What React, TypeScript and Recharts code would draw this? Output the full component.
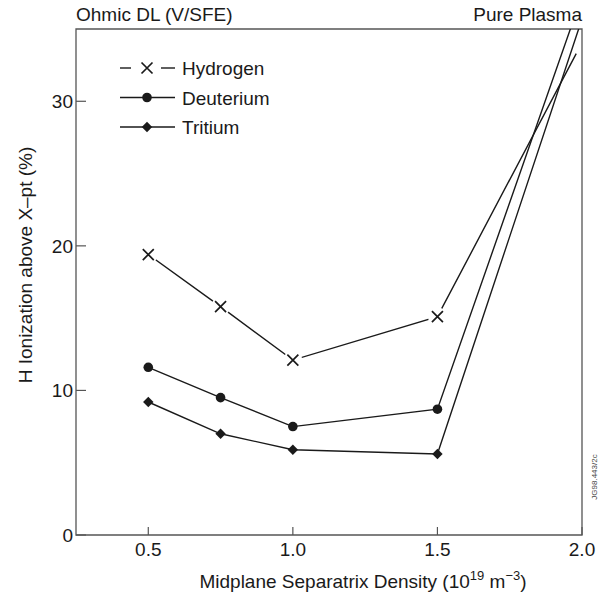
import { LineChart, Line, XAxis, YAxis, ReferenceArea } from "recharts"

const densities = [0.5, 0.75, 1.0, 1.5]
const hydrogen = [19.4, 15.8, 12.1, 15.1]
const deuterium = [11.6, 9.5, 7.5, 8.7]
const tritium = [9.2, 7.0, 5.9, 5.6]
// last point of each line (pure plasma), the two steep ones leave the frame
const endDensity = [1.98, 2.0, 2.0]
const endValue = [33.3, 37.3, 35.7]
const seriesNames = ["Hydrogen", "Deuterium", "Tritium"]
const xTicks = [0.5, 1.0, 1.5, 2.0]
const yTicks = [0, 10, 20, 30]

const FONT = "'Liberation Sans', Arial, Helvetica, sans-serif"
const INK = "#1a1a1a"
const FRAME = "#555"

type Marker = "cross" | "circle" | "diamond"
const markers: Marker[] = ["cross", "circle", "diamond"]

const series = [hydrogen, deuterium, tritium].map((values, i) => ({
  name: seriesNames[i],
  marker: markers[i],
  data: [
    ...densities.map((x, j) => ({ x, v: values[j], mark: true })),
    { x: endDensity[i], v: endValue[i], mark: false },
  ],
}))

function MarkerShape({ kind, cx, cy }: { kind: Marker; cx: number; cy: number }) {
  if (kind === "cross") {
    const a = 5.5
    return (
      <g>
        <circle cx={cx} cy={cy} r={9.5} fill="#fff" />
        <path
          d={`M${cx - a},${cy - a}L${cx + a},${cy + a}M${cx - a},${cy + a}L${cx + a},${cy - a}`}
          stroke={INK}
          strokeWidth={1.7}
        />
      </g>
    )
  }
  if (kind === "circle") return <circle cx={cx} cy={cy} r={4.8} fill={INK} />
  const d = 5.2
  return (
    <path
      d={`M${cx},${cy - d}L${cx + d},${cy}L${cx},${cy + d}L${cx - d},${cy}Z`}
      fill={INK}
    />
  )
}

const makeDot = (kind: Marker) => (props: any) => {
  const { cx, cy, payload, index } = props
  if (!payload || !payload.mark) return <g key={index} />
  return (
    <g key={index}>
      <MarkerShape kind={kind} cx={cx} cy={cy} />
    </g>
  )
}

function XTick(props: any) {
  const { x, y, payload } = props
  return (
    <g>
      <line x1={x} y1={y} x2={x} y2={y - 8} stroke={FRAME} strokeWidth={1.2} />
      <text x={x} y={y + 21} textAnchor="middle" fontSize={19} fontFamily={FONT} fill={INK}>
        {payload.value.toFixed(1)}
      </text>
    </g>
  )
}

function YTick(props: any) {
  const { x, y, payload } = props
  return (
    <g>
      <line x1={x} y1={y} x2={x + 10} y2={y} stroke={FRAME} strokeWidth={1.2} />
      <text x={x - 3} y={y + 7} textAnchor="end" fontSize={19} fontFamily={FONT} fill={INK}>
        {payload.value}
      </text>
    </g>
  )
}

export default function App() {
  return (
    <div style={{ position: "absolute", left: 0, top: 0, width: 611, height: 596, background: "#fff" }}>
      <LineChart width={611} height={596} margin={{ top: 29, right: 29, bottom: 21, left: 16 }}>
        <XAxis
          type="number"
          dataKey="x"
          domain={[0.25, 2.0]}
          ticks={xTicks}
          allowDataOverflow
          height={40}
          tickSize={0}
          tickMargin={0}
          axisLine={false}
          tickLine={false}
          tick={XTick}
        />
        <YAxis
          type="number"
          domain={[0, 35]}
          ticks={yTicks}
          allowDataOverflow
          width={60}
          tickSize={0}
          tickMargin={0}
          axisLine={false}
          tickLine={false}
          tick={YTick}
        />
        <ReferenceArea x1={0.25} x2={2.0} y1={0} y2={35} fill="none" stroke={FRAME} strokeWidth={1.3} />
        {series.map((s) => (
          <Line
            key={s.name}
            data={s.data}
            dataKey="v"
            name={s.name}
            type="linear"
            stroke={INK}
            strokeWidth={1.4}
            dot={makeDot(s.marker)}
            activeDot={false}
            isAnimationActive={false}
          />
        ))}
      </LineChart>
      <svg
        width={611}
        height={596}
        style={{ position: "absolute", left: 0, top: 0, pointerEvents: "none" }}
        fontFamily={FONT}
        fill={INK}
      >
        <text x={76} y={21} fontSize={19}>Ohmic DL (V/SFE)</text>
        <text x={582} y={21} fontSize={19} textAnchor="end">Pure Plasma</text>
        {series.map((s, i) => {
          const cy = 68 + i * 29.5
          return (
            <g key={s.name}>
              {s.marker === "cross" ? (
                <>
                  <line x1={120} y1={cy} x2={131} y2={cy} stroke={INK} strokeWidth={1.4} />
                  <line x1={161} y1={cy} x2={175} y2={cy} stroke={INK} strokeWidth={1.4} />
                </>
              ) : (
                <line x1={120} y1={cy} x2={175} y2={cy} stroke={INK} strokeWidth={1.4} />
              )}
              <MarkerShape kind={s.marker} cx={147} cy={cy} />
              <text x={182} y={cy + 7} fontSize={19}>{s.name}</text>
            </g>
          )
        })}
        <text x={32} y={265} fontSize={19} textAnchor="middle" transform="rotate(-90 32 265)">
          H Ionization above X–pt (%)
        </text>
        <text x={363} y={588} fontSize={19} textAnchor="middle">
          Midplane Separatrix Density (10
          <tspan fontSize={13} dy={-8}>19</tspan>
          <tspan dy={8}> m</tspan>
          <tspan fontSize={13} dy={-8}>−3</tspan>
          <tspan dy={8}>)</tspan>
        </text>
        <text x={597} y={477} fontSize={8} textAnchor="middle" fill="#444" transform="rotate(-90 597 477)">
          JG98.443/2c
        </text>
      </svg>
    </div>
  )
}
